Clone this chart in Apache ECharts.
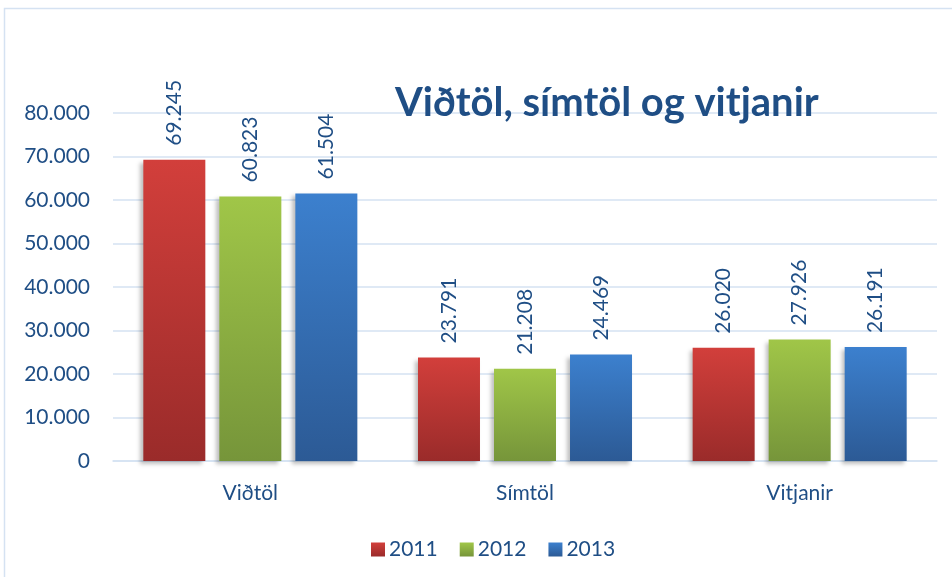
<!DOCTYPE html>
<html>
<head>
<meta charset="utf-8">
<script src="https://cdn.jsdelivr.net/npm/echarts@6/dist/echarts.min.js"></script>
<style>
  html, body { margin: 0; padding: 0; background: #fff; }
  #chart { width: 952px; height: 577px; }
</style>
</head>
<body>
<div id="chart"></div>
<script>
const categories = ['Viðtöl', 'Símtöl', 'Vitjanir']
const years = ['2011', '2012', '2013']
const values2011 = [69245, 23791, 26020]
const values2012 = [60823, 21208, 27926]
const values2013 = [61504, 24469, 26191]
const yTicks = [0, 10000, 20000, 30000, 40000, 50000, 60000, 70000, 80000]

const textColor = '#1f4e85'
const fontFamily = 'Lato, "Open Sans", sans-serif'

const colors = [
  ['#d23f3b', '#9a2b2a'],
  ['#a0c648', '#76953a'],
  ['#3c80ce', '#2c5a95']
]

function fmt(v) {
  return String(v).replace(/\B(?=(\d{3})+(?!\d))/g, '.')
}

const chart = echarts.init(document.getElementById('chart'))
const seriesData = [values2011, values2012, values2013]

chart.setOption({
  animation: false,
  textStyle: { fontFamily: fontFamily },
  graphic: [{
    type: 'rect',
    shape: { x: 4.5, y: 8.5, width: 960, height: 600 },
    style: { fill: 'none', stroke: '#d5e2f2', lineWidth: 1.5 },
    z: -1
  }],
  title: {
    text: 'Viðtöl, símtöl og vitjanir',
    left: 390,
    top: 78,
    textStyle: { color: textColor, fontSize: 40, fontWeight: 'bold', fontFamily: fontFamily }
  },
  legend: {
    data: years,
    left: 366,
    top: 534,
    itemWidth: 14,
    itemHeight: 14,
    itemGap: 22,
    icon: 'rect',
    textStyle: { color: textColor, fontSize: 21, padding: [0, 0, 0, -1] }
  },
  grid: {
    left: 113,
    right: 15,
    top: 113,
    bottom: 116
  },
  xAxis: {
    type: 'category',
    data: categories,
    axisTick: { show: false },
    axisLine: { lineStyle: { color: '#d5e2f2', width: 1.5 } },
    axisLabel: { color: textColor, fontSize: 21, margin: 22 }
  },
  yAxis: {
    type: 'value',
    min: yTicks[0],
    max: yTicks[yTicks.length - 1],
    interval: yTicks[1] - yTicks[0],
    axisLine: { show: false },
    axisTick: { show: false },
    splitLine: { lineStyle: { color: '#d5e2f2', width: 1.5 } },
    axisLabel: { color: textColor, fontSize: 21, margin: 23, formatter: fmt }
  },
  series: years.map((y, i) => ({
    name: y,
    type: 'bar',
    data: seriesData[i],
    barWidth: 62,
    barGap: '22.6%',
    itemStyle: {
      color: new echarts.graphic.LinearGradient(0, 0, 0, 1, [
        { offset: 0, color: colors[i][0] },
        { offset: 1, color: colors[i][1] }
      ]),
      shadowColor: 'rgba(0,0,0,0.25)',
      shadowBlur: 4,
      shadowOffsetX: -3,
      shadowOffsetY: 3
    },
    label: {
      show: true,
      position: 'top',
      rotate: 90,
      align: 'left',
      verticalAlign: 'middle',
      distance: 14,
      color: textColor,
      fontSize: 21,
      formatter: (p) => fmt(p.value)
    }
  }))
})
</script>
</body>
</html>
